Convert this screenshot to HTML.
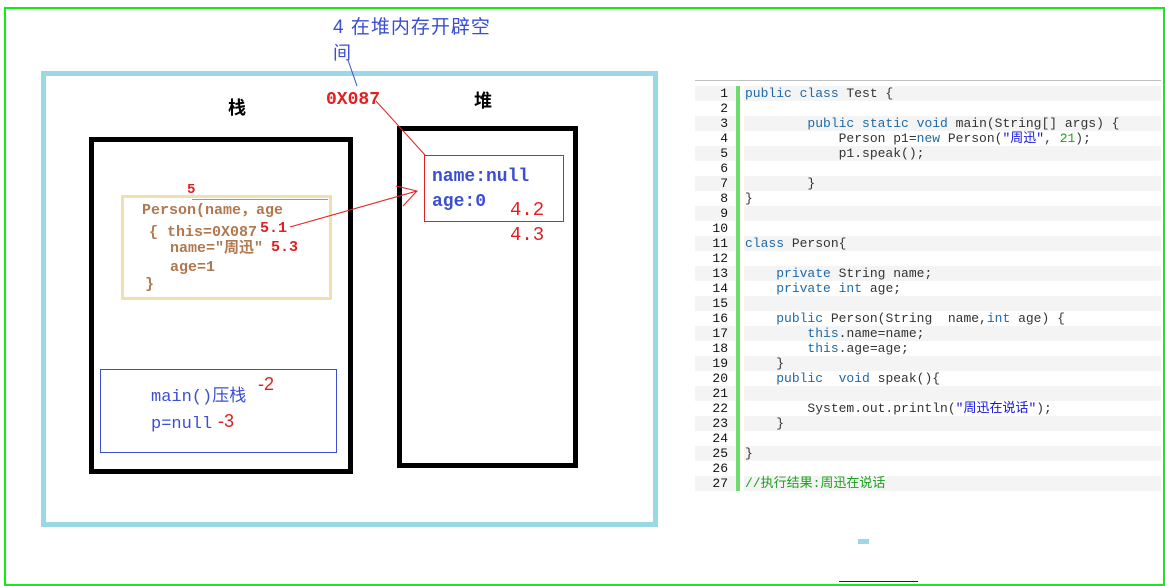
<!DOCTYPE html>
<html><head><meta charset="utf-8"><style>
body{margin:0;width:1165px;height:586px;position:relative;background:#fff;overflow:hidden;font-family:"Liberation Mono","Noto Sans CJK SC",monospace}
.a{position:absolute;white-space:pre;line-height:1}
.code{position:absolute;left:695px;top:86px;width:466px;font-family:"Liberation Mono","Noto Sans CJK SC",monospace;font-size:13px}
.row{height:15px;line-height:15px;position:relative;white-space:pre}
.row.o{background:linear-gradient(to right,#f4f4f4 0,#f4f4f4 41px,transparent 41px,transparent 49px,#f4f4f4 49px)}
.n{position:absolute;left:0;width:33px;text-align:right;color:#111}
.c{position:absolute;left:50px;color:#333}
.k{color:#1d6aa8}.s{color:#1515e0}.g{color:#1aa01a}
.br{color:#b0784e;font-size:15px;font-weight:bold}
.rd{color:#e02020}
</style></head><body>
<div class="a" style="left:4px;top:7px;width:1157px;height:575px;border:2px solid #11ee11"></div>
<div class="a" style="left:41px;top:71px;width:607px;height:446px;border:5px solid #9ad8e6"></div>
<div class="a" style="left:89px;top:137px;width:254px;height:327px;border:5px solid #000"></div>
<div class="a" style="left:397px;top:126px;width:171px;height:332px;border:5px solid #000"></div>
<div class="a" style="left:121px;top:195px;width:205px;height:99px;border:3px solid #eee0b0"></div>
<div class="a" style="left:192px;top:199px;width:136px;height:1px;background:#999"></div>
<div class="a" style="left:424px;top:155px;width:138px;height:65px;border:1px solid #e02020"></div>
<div class="a" style="left:100px;top:369px;width:235px;height:82px;border:1.5px solid #3b4fd0"></div>
<div class="a" style="left:736px;top:86px;width:4px;height:405px;background:#6ddc6d"></div>
<div class="a" style="left:695px;top:80px;width:466px;height:1px;background:#c0c0c0"></div>
<div class="a" style="left:858px;top:539px;width:11px;height:5px;background:#9ad8e6"></div>
<div class="a" style="left:839px;top:581px;width:79px;height:1px;background:#222"></div>
<svg class="a" style="left:0;top:0" width="1165" height="586">
<line x1="348" y1="60" x2="357" y2="86" stroke="#3b4fd0" stroke-width="1"/>
<line x1="376" y1="101" x2="425" y2="155" stroke="#e02020" stroke-width="1"/>
<line x1="290" y1="227" x2="417" y2="191" stroke="#e02020" stroke-width="1"/>
<polyline points="396,186 417,191 403,206" fill="none" stroke="#e02020" stroke-width="1"/>
</svg>
<div class="a" style="left:333px;top:18px;font-size:19px;color:#3b4fd0;font-family:'Liberation Sans','Noto Sans CJK SC',sans-serif;letter-spacing:1px">4 在堆内存开辟空</div>
<div class="a" style="left:333px;top:43px;font-size:18px;color:#3b4fd0;font-family:'Noto Sans CJK SC',sans-serif">间</div>
<div class="a rd" style="left:326px;top:91px;font-size:18px;font-weight:bold">0X087</div>
<div class="a" style="left:228px;top:98px;font-size:18px;font-weight:bold;font-family:'Noto Sans CJK SC',sans-serif">栈</div>
<div class="a" style="left:474px;top:91px;font-size:18px;font-weight:bold;font-family:'Noto Sans CJK SC',sans-serif">堆</div>
<div class="a rd" style="left:187px;top:183px;font-size:14px;font-weight:bold">5</div>
<div class="a br" style="left:142px;top:203px">Person(name，age</div>
<div class="a br" style="left:149px;top:225px">{ this=0X087</div>
<div class="a rd" style="left:260px;top:221px;font-size:15px;font-weight:bold">5.1</div>
<div class="a br" style="left:170px;top:241px">name=″周迅″</div>
<div class="a rd" style="left:271px;top:240px;font-size:15px;font-weight:bold">5.3</div>
<div class="a br" style="left:170px;top:260px">age=1</div>
<div class="a br" style="left:145px;top:277px">}</div>
<div class="a" style="left:432px;top:168px;font-size:18px;color:#3b4fd0;font-weight:bold">name:null</div>
<div class="a" style="left:432px;top:193px;font-size:18px;color:#3b4fd0;font-weight:bold">age:0</div>
<div class="a rd" style="left:510px;top:201px;font-size:19px">4.2</div>
<div class="a rd" style="left:510px;top:226px;font-size:19px">4.3</div>
<div class="a" style="left:151px;top:389px;font-size:17px;color:#3b4fd0">main()压栈</div>
<div class="a" style="left:151px;top:416px;font-size:17px;color:#3b4fd0">p=null</div>
<div class="a rd" style="left:258px;top:375px;font-size:18px;font-family:'Liberation Sans',sans-serif">-2</div>
<div class="a rd" style="left:218px;top:412px;font-size:18px;font-family:'Liberation Sans',sans-serif">-3</div>
<div class="code">
<div class="row o"><span class="n">1</span><span class="c"><span class="k">public class</span> Test {</span></div>
<div class="row"><span class="n">2</span></div>
<div class="row o"><span class="n">3</span><span class="c">        <span class="k">public static void</span> main(String[] args) {</span></div>
<div class="row"><span class="n">4</span><span class="c">            Person p1=<span class="k">new</span> Person(<span class="s">"周迅"</span>, <span class="g">21</span>);</span></div>
<div class="row o"><span class="n">5</span><span class="c">            p1.speak();</span></div>
<div class="row"><span class="n">6</span></div>
<div class="row o"><span class="n">7</span><span class="c">        }</span></div>
<div class="row"><span class="n">8</span><span class="c">}</span></div>
<div class="row o"><span class="n">9</span></div>
<div class="row"><span class="n">10</span></div>
<div class="row o"><span class="n">11</span><span class="c"><span class="k">class</span> Person{</span></div>
<div class="row"><span class="n">12</span></div>
<div class="row o"><span class="n">13</span><span class="c">    <span class="k">private</span> String name;</span></div>
<div class="row"><span class="n">14</span><span class="c">    <span class="k">private int</span> age;</span></div>
<div class="row o"><span class="n">15</span></div>
<div class="row"><span class="n">16</span><span class="c">    <span class="k">public</span> Person(String  name,<span class="k">int</span> age) {</span></div>
<div class="row o"><span class="n">17</span><span class="c">        <span class="k">this</span>.name=name;</span></div>
<div class="row"><span class="n">18</span><span class="c">        <span class="k">this</span>.age=age;</span></div>
<div class="row o"><span class="n">19</span><span class="c">    }</span></div>
<div class="row"><span class="n">20</span><span class="c">    <span class="k">public  void</span> speak(){</span></div>
<div class="row o"><span class="n">21</span></div>
<div class="row"><span class="n">22</span><span class="c">        System.out.println(<span class="s">"周迅在说话"</span>);</span></div>
<div class="row o"><span class="n">23</span><span class="c">    }</span></div>
<div class="row"><span class="n">24</span></div>
<div class="row o"><span class="n">25</span><span class="c">}</span></div>
<div class="row"><span class="n">26</span></div>
<div class="row o"><span class="n">27</span><span class="c"><span class="g">//执行结果:周迅在说话</span></span></div>
</div>
</body></html>
